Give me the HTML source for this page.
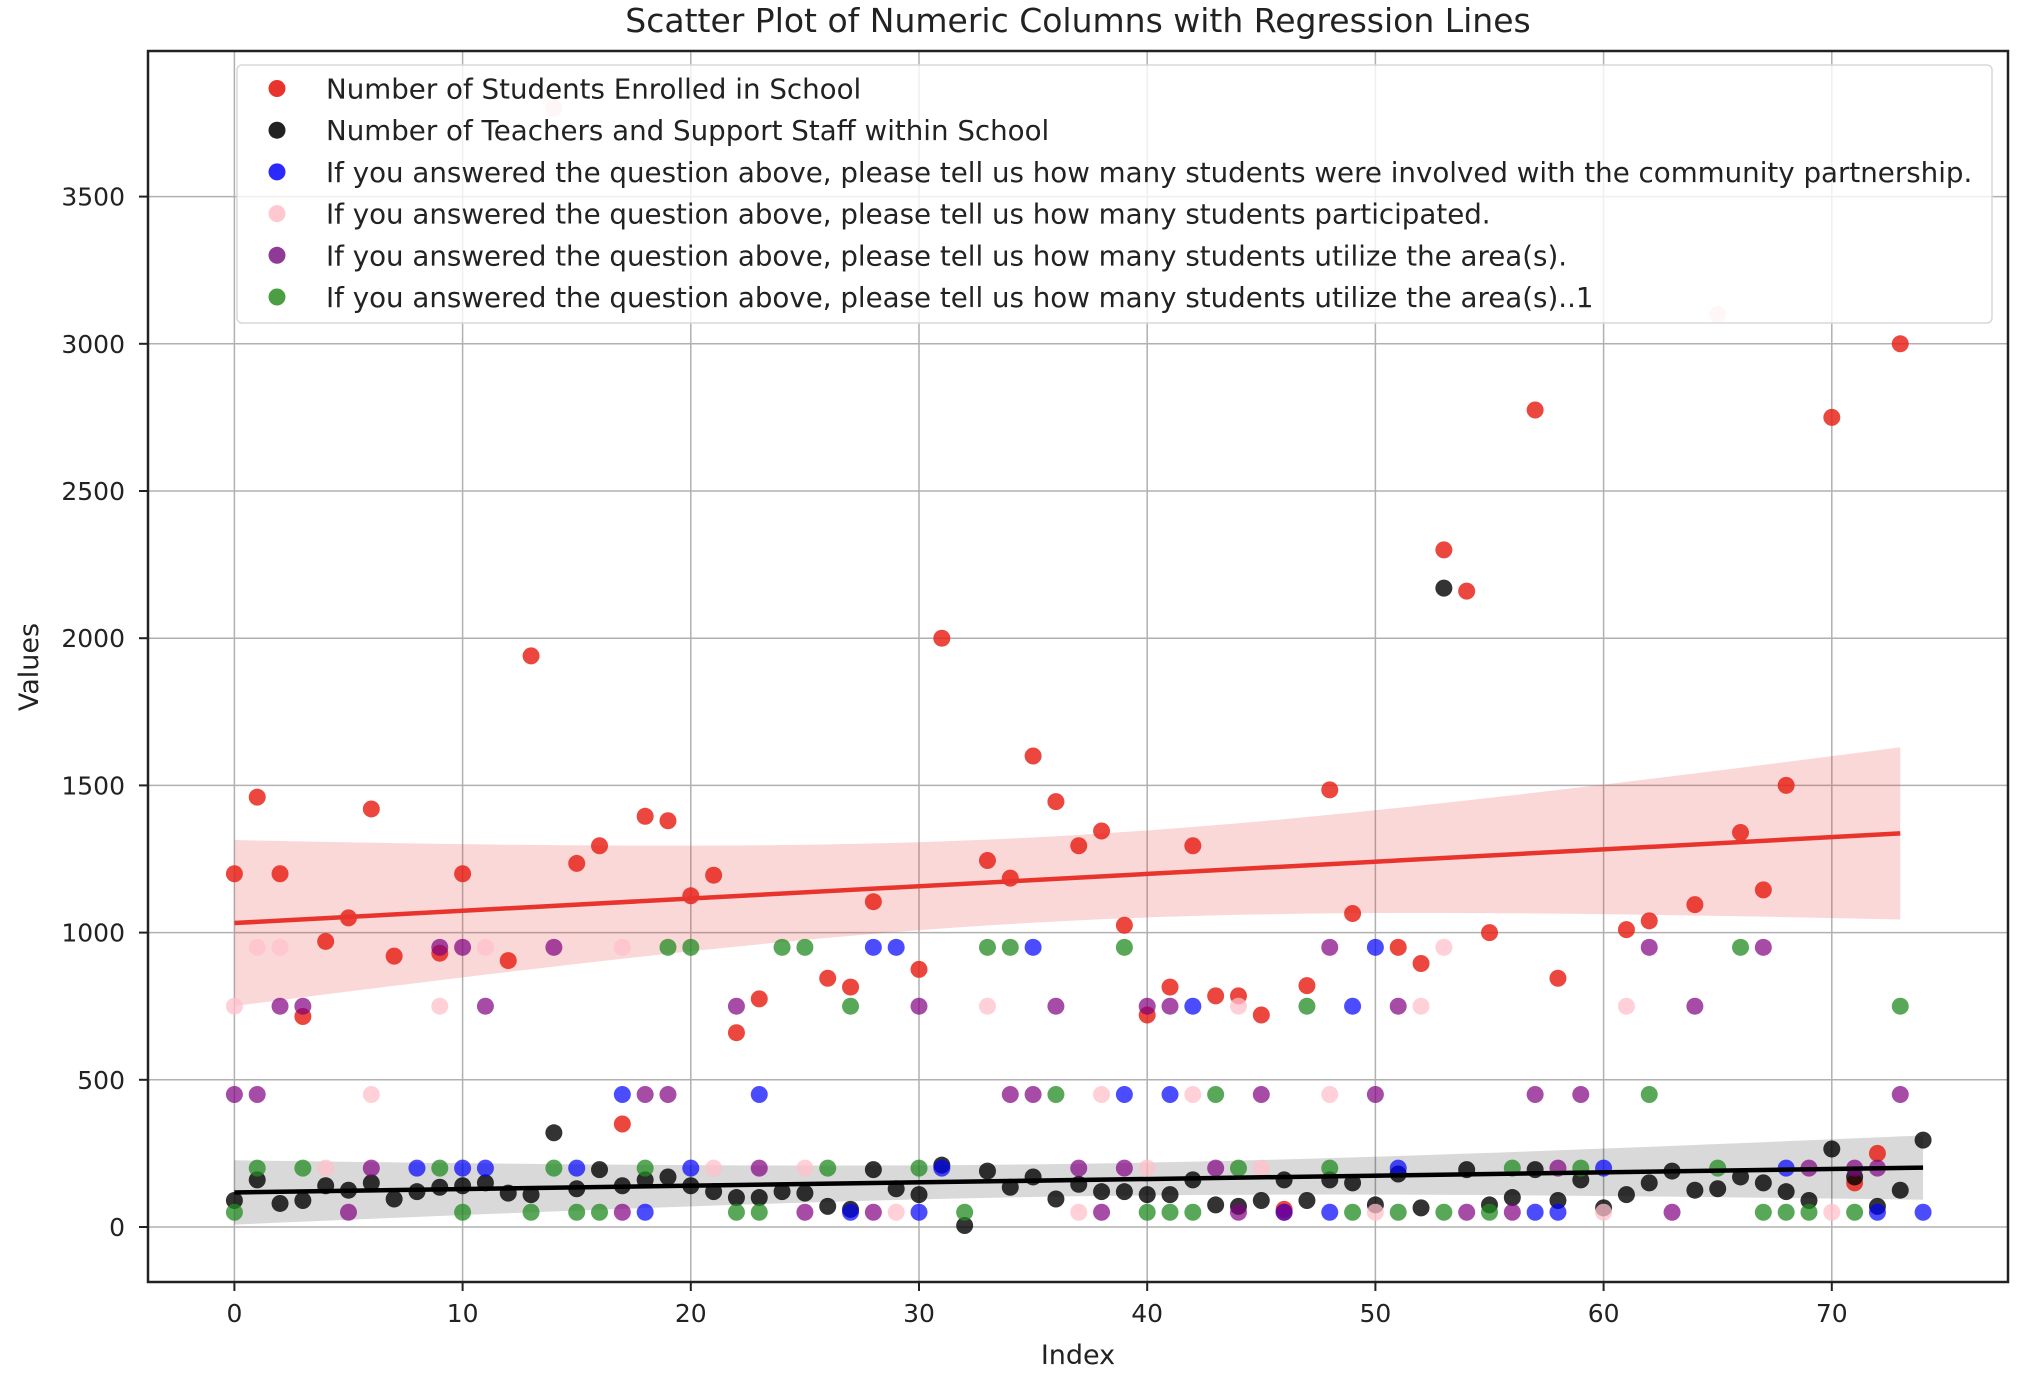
<!DOCTYPE html>
<html><head><meta charset="utf-8"><style>
body{margin:0;background:#fff;}
svg{display:block;font-family:"DejaVu Sans","Liberation Sans",sans-serif;}
</style></head><body>
<svg id="chart" width="2042" height="1376" viewBox="0 0 2042 1376" xmlns="http://www.w3.org/2000/svg">
<rect width="2042" height="1376" fill="#fff"/>
<text x="1078" y="32" font-size="33" text-anchor="middle" fill="#222">Scatter Plot of Numeric Columns with Regression Lines</text>
<g id="grid"></g>
<g id="bands"></g>
<g id="points"></g>
<g id="lines"></g>
<rect x="148" y="51" width="1860" height="1231" fill="none" stroke="#222" stroke-width="2.5"/>
<g id="ticks"></g>
<text x="1078" y="1364" font-size="27" text-anchor="middle" fill="#222">Index</text>
<text transform="translate(38,667) rotate(-90)" font-size="27" text-anchor="middle" fill="#222">Values</text>
<g id="legend"></g>
</svg>
<script>
const xTicks=[0,10,20,30,40,50,60,70];
const yTicks=[0,500,1000,1500,2000,2500,3000,3500];
const seriesNames=["Number of Students Enrolled in School","Number of Teachers and Support Staff within School","If you answered the question above, please tell us how many students were involved with the community partnership.","If you answered the question above, please tell us how many students participated.","If you answered the question above, please tell us how many students utilize the area(s).","If you answered the question above, please tell us how many students utilize the area(s)..1"];
const studentsX=[0,1,2,3,4,5,6,7,9,10,12,13,15,16,17,18,19,20,21,22,23,26,27,28,30,31,33,34,35,36,37,38,39,40,41,42,43,44,45,46,47,48,49,51,52,53,54,55,57,58,61,62,64,66,67,68,70,71,72,73];
const studentsY=[1200,1460,1200,715,970,1050,1420,920,930,1200,905,1940,1235,1295,350,1395,1380,1125,1195,660,775,845,815,1105,875,2000,1245,1185,1600,1445,1295,1345,1025,720,815,1295,785,785,720,60,820,1485,1065,950,895,2300,2160,1000,2775,845,1010,1040,1095,1340,1145,1500,2750,150,250,3000];
const teachersX=[0,1,2,3,4,5,6,7,8,9,10,11,12,13,14,15,16,17,18,19,20,21,22,23,24,25,26,27,28,29,30,31,32,33,34,35,36,37,38,39,40,41,42,43,44,45,46,47,48,49,50,51,52,53,54,55,56,57,58,59,60,61,62,63,64,65,66,67,68,69,70,71,72,73,74];
const teachersY=[90,160,80,90,140,125,150,95,120,135,140,150,115,110,320,130,195,140,160,170,140,120,100,100,120,115,70,60,195,130,110,210,5,190,135,170,95,145,120,120,110,110,160,75,70,90,160,90,160,150,75,180,65,2170,195,75,100,195,90,160,65,110,150,190,125,130,170,150,120,90,265,170,70,125,295];
const communityX=[8,10,11,15,17,18,20,23,27,28,29,30,31,35,39,41,42,46,48,49,50,51,57,58,60,68,72,74];
const communityY=[200,200,200,200,450,50,200,450,50,950,950,50,200,950,450,450,750,50,50,750,950,200,50,50,200,200,50,50];
const participatedX=[0,1,2,4,6,9,11,14,17,21,25,29,33,37,38,40,42,44,45,48,50,52,53,60,61,65,70];
const participatedY=[750,950,950,200,450,750,950,3800,950,200,200,50,750,50,450,200,450,750,200,450,50,750,950,50,750,3100,50];
const areaX=[0,1,2,3,5,6,9,10,11,14,17,18,19,22,23,25,28,30,34,35,36,37,38,39,40,41,43,44,45,46,48,50,51,54,56,57,58,59,62,63,64,67,69,71,72,73];
const areaY=[450,450,750,750,50,200,950,950,750,950,50,450,450,750,200,50,50,750,450,450,750,200,50,200,750,750,200,50,450,50,950,450,750,50,50,450,200,450,950,50,750,950,200,200,200,450];
const area1X=[0,1,3,9,10,13,14,15,16,18,19,20,22,23,24,25,26,27,30,32,33,34,36,39,40,41,42,43,44,47,48,49,51,53,55,56,59,62,65,66,67,68,69,71,73];
const area1Y=[50,200,200,200,50,50,200,50,50,200,950,950,50,50,950,950,200,750,200,50,950,950,450,950,50,50,50,450,200,750,200,50,50,50,50,200,200,450,200,950,50,50,50,50,750];
const seriesColors=["rgba(232,30,20,0.82)","rgba(0,0,0,0.8)","rgba(0,0,255,0.7)","rgba(255,192,203,0.75)","rgba(128,0,128,0.7)","rgba(34,139,34,0.75)"];
const legendColors=["#e8342c","#222","#2a2aff","#ffc8d0","#8e3a96","#4c9e42"];

const NS="http://www.w3.org/2000/svg";
const L=148,R=2008,T=51,B=1282;
const xScale=v=>234.4+v*22.82;
const yScale=v=>1227-v*0.2944;
function mk(tag,parent,attrs){const e=document.createElementNS(NS,tag);for(const k in attrs)e.setAttribute(k,attrs[k]);document.getElementById(parent).appendChild(e);return e;}

xTicks.forEach(t=>{const x=xScale(t);
 let g=mk('line','grid',{x1:x,x2:x,y1:T,y2:B,stroke:'#b0b0b0','stroke-width':1.5});
 
 
 let tk=mk('line','ticks',{x1:x,x2:x,y1:B,y2:B+9,stroke:'#222','stroke-width':2});
 
 
 let lb=mk('text','ticks',{x:x,y:B+40,'font-size':25,'text-anchor':'middle',fill:'#222'});lb.textContent=t;
 
 
});
yTicks.forEach(t=>{const y=yScale(t);
 let g=mk('line','grid',{x1:L,x2:R,y1:y,y2:y,stroke:'#b0b0b0','stroke-width':1.5});
 
 
 let tk=mk('line','ticks',{x1:L-9,x2:L,y1:y,y2:y,stroke:'#222','stroke-width':2});
 
 
 let lb=mk('text','ticks',{x:L-23,y:y+9,'font-size':25,'text-anchor':'end',fill:'#222'});lb.textContent=t;
 
 
});

const allX=[studentsX,teachersX,communityX,participatedX,areaX,area1X];
const allY=[studentsY,teachersY,communityY,participatedY,areaY,area1Y];
allX.forEach((xs,s)=>{xs.forEach((xv,i)=>{
 const c=mk('circle','points',{cx:xScale(xv),cy:yScale(allY[s][i]),r:8.5,fill:seriesColors[s]});
 
 
});});

function regress(xs,ys,lineColor,bandColor,name){
 const n=xs.length,mx=xs.reduce((a,b)=>a+b)/n,my=ys.reduce((a,b)=>a+b)/n;
 let sxx=0,sxy=0;xs.forEach((x,i)=>{sxx+=(x-mx)**2;sxy+=(x-mx)*(ys[i]-my);});
 const b=sxy/sxx,a=my-b*mx;let sse=0;xs.forEach((x,i)=>{sse+=(ys[i]-a-b*x)**2;});
 const s=Math.sqrt(sse/(n-2));const x0=Math.min(...xs),x1=Math.max(...xs);
 const up=[],lo=[];for(let k=0;k<=40;k++){const x=x0+(x1-x0)*k/40;const f=a+b*x;const se=1.98*s*Math.sqrt(1/n+(x-mx)**2/sxx);
  up.push(xScale(x)+','+yScale(f+se));lo.unshift(xScale(x)+','+yScale(f-se));}
 const p=mk('polygon','bands',{points:up.concat(lo).join(' '),fill:bandColor});
 
 
 const l=mk('line','lines',{x1:xScale(x0),y1:yScale(a+b*x0),x2:xScale(x1),y2:yScale(a+b*x1),stroke:lineColor,'stroke-width':4.5});
 
 
}
regress(studentsX,studentsY,'#e8342c','rgba(232,60,60,0.2)','students');
regress(teachersX,teachersY,'#000','rgba(0,0,0,0.15)','teachers');

const lb=mk('rect','legend',{x:237,y:65,width:1755,height:258,rx:5,fill:'rgba(255,255,255,0.8)',stroke:'#d8d8d8','stroke-width':1.5});


seriesNames.forEach((nm,i)=>{const y=88.5+i*41.7;
 const c=mk('circle','legend',{cx:277,cy:y,r:8.5,fill:legendColors[i]});
 
 
 const t=mk('text','legend',{x:326,y:y+10,'font-size':27.7,fill:'#222'});t.textContent=nm;
 
 
});
</script>
</body></html>
